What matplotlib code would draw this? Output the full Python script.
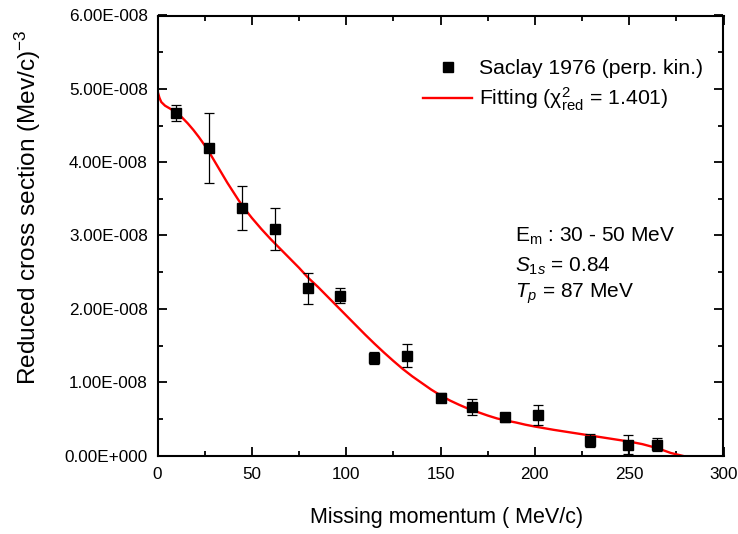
import matplotlib
matplotlib.use("Agg")
import matplotlib.pyplot as plt
from matplotlib.ticker import MultipleLocator, FuncFormatter
from matplotlib.lines import Line2D
import math

plt.rcParams['font.family'] = ['Liberation Sans', 'DejaVu Sans']
plt.rcParams['mathtext.fontset'] = 'custom'
plt.rcParams['mathtext.rm'] = 'Liberation Sans'
plt.rcParams['mathtext.it'] = 'Liberation Sans:italic'
plt.rcParams['mathtext.bf'] = 'Liberation Sans:bold'

# ---- data ----
p_miss = [10, 27.5, 45, 62.5, 80, 96.5, 115, 132.5, 150, 166.5, 184, 201.5, 229, 249.5, 264.5]
sigma_red = [4.67e-8, 4.19e-8, 3.37e-8, 3.09e-8, 2.28e-8, 2.18e-8, 1.33e-8, 1.36e-8,
             0.79e-8, 0.665e-8, 0.52e-8, 0.555e-8, 0.20e-8, 0.15e-8, 0.15e-8]
sigma_err = [0.105e-8, 0.48e-8, 0.30e-8, 0.285e-8, 0.21e-8, 0.10e-8, 0.085e-8, 0.155e-8,
             0.06e-8, 0.11e-8, 0.065e-8, 0.135e-8, 0.09e-8, 0.13e-8, 0.09e-8]

fit_p = [0, 1, 2, 4, 6, 8, 10, 13, 16, 19, 22, 25, 28, 31, 34, 37, 40, 43, 46, 50, 55,
         60, 65, 70, 75, 80, 85, 90, 95, 100, 105, 110, 115, 120, 125, 130, 135, 140,
         145, 150, 155, 160, 165, 170, 175, 180, 185, 190, 195, 200, 210, 220, 230,
         240, 250, 257, 265, 272, 280]
fit_sigma = [4.97e-8, 4.88e-8, 4.82e-8, 4.77e-8, 4.74e-8, 4.71e-8, 4.67e-8, 4.61e-8,
             4.53e-8, 4.44e-8, 4.34e-8, 4.23e-8, 4.11e-8, 3.98e-8, 3.85e-8, 3.72e-8,
             3.60e-8, 3.48e-8, 3.37e-8, 3.24e-8, 3.09e-8, 2.95e-8, 2.82e-8, 2.69e-8,
             2.56e-8, 2.42e-8, 2.30e-8, 2.17e-8, 2.04e-8, 1.91e-8, 1.78e-8, 1.65e-8,
             1.525e-8, 1.405e-8, 1.29e-8, 1.18e-8, 1.08e-8, 0.99e-8, 0.90e-8, 0.82e-8,
             0.75e-8, 0.69e-8, 0.635e-8, 0.59e-8, 0.545e-8, 0.505e-8, 0.475e-8, 0.45e-8,
             0.42e-8, 0.395e-8, 0.35e-8, 0.31e-8, 0.27e-8, 0.23e-8, 0.19e-8, 0.155e-8,
             0.10e-8, 0.035e-8, -0.015e-8]

legend_labels = ['Saclay 1976 (perp. kin.)', r'Fitting ($\mathrm{χ}^{2}_{\mathrm{red}}$ = 1.401)']
info_lines = [r'E$_{\mathrm{m}}$ : 30 - 50 MeV', r'$S_{1s}$ = 0.84', r'$T_{p}$ = 87 MeV']

W, H = 738, 534
fig = plt.figure(figsize=(W / 100, H / 100), dpi=100)
ax = fig.add_axes([157.5 / W, 1 - 455.5 / H, (723.5 - 157.5) / W, (455.5 - 15.5) / H])

ax.plot(fit_p, fit_sigma, color='#ff0000', lw=1.7, zorder=2, solid_joinstyle='round')
ax.errorbar(p_miss, sigma_red, yerr=sigma_err, fmt='s', color='black', ms=7,
            ecolor='black', elinewidth=0.9, capsize=3.6, capthick=0.9, zorder=3)

ax.set_xlim(0, 300)
ax.set_ylim(0, 6e-8)
ax.xaxis.set_major_locator(MultipleLocator(50))
ax.xaxis.set_minor_locator(MultipleLocator(25))
ax.yaxis.set_major_locator(MultipleLocator(1e-8))
ax.yaxis.set_minor_locator(MultipleLocator(0.5e-8))


def sci(v, pos):
    if abs(v) < 1e-20:
        return '0.00E+000'
    e = int(math.floor(math.log10(abs(v))))
    m = v / 10 ** e
    if round(m, 2) >= 10:
        m /= 10
        e += 1
    sign = '+' if e >= 0 else '-'
    return f'{m:.2f}E{sign}{abs(e):03d}'


ax.yaxis.set_major_formatter(FuncFormatter(sci))
ax.tick_params(which='both', direction='in', top=True, right=True, width=1.3)
ax.tick_params(which='major', length=6.5, labelsize=12.3)
ax.tick_params(axis='y', which='major', pad=7)
ax.tick_params(axis='x', which='major', pad=8)
ax.tick_params(which='minor', length=3.5)
for s in ax.spines.values():
    s.set_linewidth(1.5)

fig.text(447 / W, 1 - 517 / H, 'Missing momentum ( MeV/c)', fontsize=15.5, ha='center', va='center')
fig.text(28 / W, 1 - 207 / H, r'Reduced cross section (Mev/c)$^{-3}$', fontsize=17.6,
         rotation=90, ha='center', va='center')

handles = [Line2D([], [], marker='s', ls='none', color='black', ms=7),
           Line2D([], [], color='#ff0000', lw=1.7)]
ax.legend(handles, legend_labels, loc='upper left', bbox_to_anchor=(423.3 / W, 1 - 59.5 / H),
          bbox_transform=fig.transFigure, frameon=False, borderpad=0, borderaxespad=0,
          fontsize=15.3, handlelength=2.3, handletextpad=0.3, labelspacing=0.34)

for txt, yb in zip(info_lines, [241.7, 271.7, 297.3]):
    fig.text(515 / W, 1 - yb / H, txt, fontsize=15, ha='left', va='baseline')

fig.savefig('out.png', dpi=100)
